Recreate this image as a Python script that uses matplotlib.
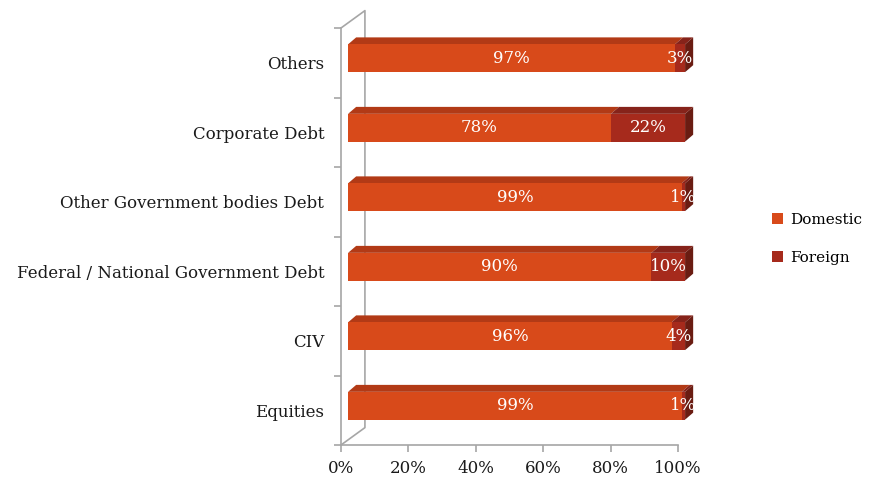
import matplotlib.pyplot as plt
from matplotlib.patches import Polygon, Patch
from matplotlib.ticker import FixedLocator, FuncFormatter

plt.rcParams['font.family'] = ['DejaVu Serif']

categories = ['Equities', 'CIV', 'Federal / National Government Debt',
              'Other Government bodies Debt', 'Corporate Debt', 'Others']
domestic = [99, 96, 90, 99, 78, 97]
foreign = [1, 4, 10, 1, 22, 3]

DOM_FRONT, DOM_TOP = '#d84a1a', '#b23a16'
FOR_FRONT, FOR_TOP, SIDE = '#a62a1c', '#86231a', '#6a1c12'
GREY = '#a6a6a6'
FS = 12

fig = plt.figure(figsize=(8.69, 4.83), dpi=100)
ax = fig.add_axes([341 / 869, 38 / 483, 337 / 869, 417 / 483])
ax.set_xlim(0, 100)
ax.set_ylim(-0.5, 5.5)

# 3D look: bar depth in data units
dx, dy = 2.4, 0.10
shift = 2.1
h = 0.40
yoff = 0.065

# back wall
wx, wy = 7.1, 0.25
ax.plot([0, wx, wx, 0], [5.5, 5.5 + wy, -0.5 + wy, -0.5], color=GREY, lw=1.2,
        clip_on=False, zorder=1)

for i, (d, f) in enumerate(zip(domestic, foreign)):
    yc = i + yoff
    y0, y1 = yc - h / 2, yc + h / 2
    segs = [(0, d, DOM_FRONT, DOM_TOP), (d, d + f, FOR_FRONT, FOR_TOP)]
    for x0, x1, cf, ct in segs:
        a, b = x0 + shift, x1 + shift
        ax.add_patch(Polygon([(a, y1), (b, y1), (b + dx, y1 + dy), (a + dx, y1 + dy)],
                             closed=True, facecolor=ct, edgecolor='none',
                             clip_on=False, zorder=3))
        ax.add_patch(Polygon([(a, y0), (b, y0), (b, y1), (a, y1)], closed=True,
                             facecolor=cf, edgecolor='none', clip_on=False, zorder=3))
    e = d + f + shift
    ax.add_patch(Polygon([(e, y0), (e + dx, y0 + dy), (e + dx, y1 + dy), (e, y1)],
                         closed=True, facecolor=SIDE, edgecolor='none',
                         clip_on=False, zorder=3))
    ax.text(d / 2 + shift, yc, '%d%%' % d, color='white', ha='center', va='center',
            fontsize=FS, zorder=4)
    ax.text(d + f / 2 + shift, yc, '%d%%' % f, color='white', ha='center', va='center',
            fontsize=FS, zorder=4, clip_on=False)

for s in ['top', 'right']:
    ax.spines[s].set_visible(False)
for s in ['left', 'bottom']:
    ax.spines[s].set_color(GREY)
    ax.spines[s].set_linewidth(1.2)

ax.xaxis.set_major_locator(FixedLocator(range(0, 101, 20)))
ax.xaxis.set_major_formatter(FuncFormatter(lambda v, p: '%d%%' % v))
ax.set_yticks(range(len(categories)))
ax.set_yticklabels(categories)
ax.yaxis.set_minor_locator(FixedLocator([k - 0.5 for k in range(7)]))
ax.tick_params(axis='y', which='major', length=0, pad=12, labelsize=FS, labelcolor='#1a1a1a')
ax.tick_params(axis='y', which='minor', length=5, color=GREY, width=1.2)
ax.tick_params(axis='x', length=5, color=GREY, width=1.2, labelsize=FS,
               labelcolor='#1a1a1a', pad=6)

handles = [Patch(facecolor=DOM_FRONT, label='Domestic'),
           Patch(facecolor=FOR_FRONT, label='Foreign')]
fig.legend(handles=handles, loc='center left', bbox_to_anchor=(772 / 869, 1 - 239 / 483),
           frameon=False, fontsize=11, handlelength=0.75, handleheight=0.75,
           handletextpad=0.45, labelspacing=1.6, borderpad=0, borderaxespad=0)

fig.savefig('out.png', dpi=100)
